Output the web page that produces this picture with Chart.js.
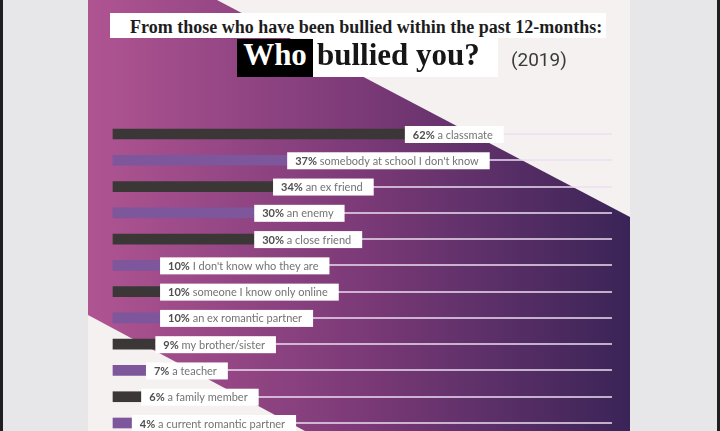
<!DOCTYPE html>
<html lang="en">
<head>
<meta charset="UTF-8">
<title>Who bullied you?</title>
<script src="https://cdn.jsdelivr.net/npm/chart.js@4.4.1/dist/chart.umd.min.js"></script>
<style>
  html, body { margin: 0; padding: 0; width: 720px; height: 431px; overflow: hidden; background: #e7e7e9; }
  #wrap { position: relative; width: 720px; height: 431px; }
  #chart { position: absolute; left: 0; top: 0; }
  .box { position: absolute; white-space: nowrap; font-family: "Liberation Serif", serif; font-weight: bold; }
  #sub { left: 110px; top: 13px; width: 476px; height: 25px; line-height: 29px; padding-left: 20px;
         background: #fff; color: #1d1d1d; font-size: 18px; overflow: hidden; }
  #who { left: 237px; top: 39px; width: 76px; height: 38px; line-height: 31px; text-align: center;
         background: #000; color: #fff; font-size: 31px; overflow: hidden; }
  #bul { left: 313px; top: 38px; width: 181px; height: 39px; line-height: 33px; padding-left: 4px;
         background: #fff; color: #161616; font-size: 31px; overflow: hidden; }
  #year { position: absolute; left: 511px; top: 48px; line-height: 24px; font-family: Roboto, sans-serif;
          font-size: 19px; color: #3a3a3a; }
</style>
</head>
<body>
<div id="wrap">
  <canvas id="chart" width="720" height="431"></canvas>
  <div class="box" id="sub">From those who have been bullied within the past 12-months:</div>
  <div class="box" id="who">Who</div>
  <div class="box" id="bul">bullied you?</div>
  <div id="year">(2019)</div>
</div>
<script>
// who bullied you, % of those bullied in the past 12 months (2019)
var categories = [
  'a classmate',
  'somebody at school I don\'t know',
  'an ex friend',
  'an enemy',
  'a close friend',
  'I don\'t know who they are',
  'someone I know only online',
  'an ex romantic partner',
  'my brother/sister',
  'a teacher',
  'a family member',
  'a current romantic partner'
];
var percents = [62, 37, 34, 30, 30, 10, 10, 10, 9, 7, 6, 4];

var darkBar = '#3c3737';
var purpleBar = '#7d569b';

// cream panel with the purple diagonal band behind everything
var backdrop = {
  id: 'backdrop',
  beforeDraw: function(chart) {
    var ctx = chart.ctx;
    var w = chart.width, h = chart.height;
    ctx.save();
    ctx.fillStyle = '#e7e7e9';
    ctx.fillRect(0, 0, w, h);
    ctx.fillStyle = '#1f1f1f';
    ctx.fillRect(0, 0, 3, h);
    ctx.fillRect(w - 3, 0, 3, h);
    ctx.fillStyle = '#f4f1f0';
    ctx.fillRect(88, 0, 542, h);

    var grad = ctx.createLinearGradient(88, 0, 630, 0);
    grad.addColorStop(0, '#b05492');
    grad.addColorStop(0.5, '#7c3a78');
    grad.addColorStop(1, '#3a2457');
    ctx.fillStyle = grad;
    ctx.beginPath();
    ctx.moveTo(88, 0);
    ctx.lineTo(217, 0);
    ctx.lineTo(630, 217);
    ctx.lineTo(630, h);
    ctx.lineTo(305, h);
    ctx.lineTo(88, 315);
    ctx.closePath();
    ctx.fill();
    ctx.restore();
  }
};

// white tag at the end of each bar: bold percent + who
var barTags = {
  id: 'barTags',
  afterDatasetsDraw: function(chart) {
    var ctx = chart.ctx;
    var meta = chart.getDatasetMeta(0);
    ctx.save();
    ctx.textBaseline = 'middle';
    meta.data.forEach(function(bar, i) {
      var pct = percents[i] + '%';
      var who = ' ' + categories[i];
      ctx.font = 'bold 11px Lato';
      var w1 = ctx.measureText(pct).width;
      ctx.font = '11px Lato';
      var w2 = ctx.measureText(who).width;
      var x = bar.x;
      var y = bar.y;
      ctx.fillStyle = '#ffffff';
      ctx.fillRect(x, y - 8, 8 + w1 + w2 + 11, 17);
      ctx.font = 'bold 11px Lato';
      ctx.fillStyle = '#4e4e4e';
      ctx.fillText(pct, x + 8, y + 1);
      ctx.font = '11px Lato';
      ctx.fillStyle = '#737373';
      ctx.fillText(who, x + 8 + w1, y + 1);
    });
    ctx.restore();
  }
};

var config = {
  type: 'bar',
  data: {
    labels: categories,
    datasets: [{
      data: percents,
      backgroundColor: percents.map(function(v, i) { return i % 2 === 0 ? darkBar : purpleBar; }),
      borderWidth: 0,
      barThickness: 10,
      clip: false
    }]
  },
  options: {
    responsive: false,
    animation: false,
    indexAxis: 'y',
    layout: {
      padding: { left: 113, right: 108, top: 134, bottom: 8 }
    },
    plugins: {
      legend: { display: false },
      tooltip: { enabled: false },
      title: { display: false }
    },
    scales: {
      x: {
        min: 0,
        max: 106,
        display: false
      },
      y: {
        type: 'category',
        offset: false,
        grid: {
          offset: false,
          color: 'rgba(236, 222, 242, 0.75)',
          lineWidth: 2,
          drawTicks: false
        },
        border: { display: false },
        ticks: { display: false }
      }
    }
  },
  plugins: [backdrop, barTags]
};

window.onload = function() {
  var ctx = document.getElementById('chart').getContext('2d');
  window.myChart = new Chart(ctx, config);
};
</script>
</body>
</html>
